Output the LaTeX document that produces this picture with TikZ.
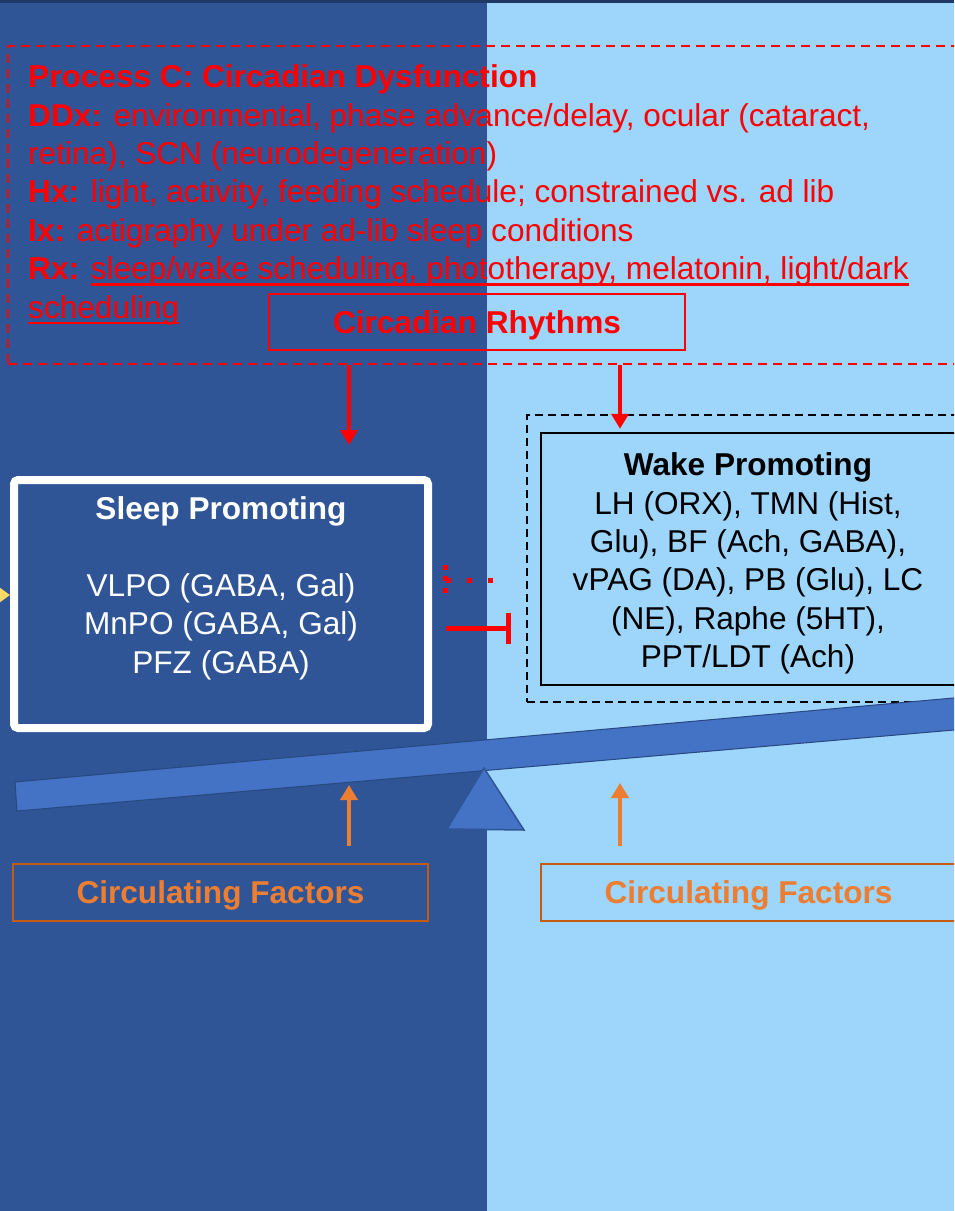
\documentclass[tikz,border=0pt]{standalone}
\usepackage{fontspec}
\setmainfont{Liberation Sans}
\usepackage{tikz}
\usetikzlibrary{arrows.meta, positioning, calc}

% underline drawn a fixed distance below the baseline
\newcommand{\ulrule}[1]{\setbox0\hbox{#1}\rlap{\rule[-6.2pt]{\wd0}{2.4pt}}\box0}

\definecolor{nightblue}{HTML}{2F5597}
\definecolor{skyblue}{HTML}{9DD5FB}
\definecolor{topnavy}{HTML}{203864}
\definecolor{beamblue}{HTML}{4472C4}
\definecolor{cfline}{HTML}{C55A11}
\definecolor{cftext}{HTML}{ED7D31}
\definecolor{cue}{HTML}{FFD966}

\begin{document}
\begin{tikzpicture}[x=1pt, y=-1pt,
  txt/.style={font=\fontsize{31.6}{38.4}\selectfont, inner sep=0pt},
  box/.style={draw=#1, line width=2pt, inner sep=0pt, text depth=0pt, font=\fontsize{31.6}{38.4}\selectfont\bfseries},
  frame/.style={draw=#1, line width=2pt, dash pattern=on 9pt off 6pt},
  arr/.style={-{Triangle[length=15pt, width=17pt]}, line width=4pt, draw=#1},
  inhib/.style={-{Bar[width=31pt]}, line width=5pt, draw=red},
  dotline/.style={line width=5pt, draw=red, dash pattern=on 5pt off 16pt}
]
\useasboundingbox (0,0) rectangle (954,1211);
\clip (0,0) rectangle (954,1211);

% two halves of the background
\fill[nightblue] (0,0) rectangle (487,1211);
\fill[skyblue] (487,0) rectangle (954,1211);
\fill[topnavy] (0,0) rectangle (954,3);

% column positions of the vertical arrows
\coordinate (lx) at (349,0);
\coordinate (rx) at (620,0);

% Process C panel
\node[frame=red, minimum width=962, minimum height=318] (proc) at (489,205) {};
\node[txt, text=red, align=left, anchor=north west] (proctxt) at (28,64.5)
  {\textbf{Process C: Circadian Dysfunction}\\
   \textbf{DDx:} environmental, phase advance/delay, ocular (cataract,\\
   retina), SCN (neurodegeneration)\\
   \textbf{Hx:} light, activity, feeding schedule; constrained vs. ad lib\\
   \textbf{Ix:} actigraphy under ad-lib sleep conditions\\
   \textbf{Rx:} \ulrule{sleep/wake scheduling, phototherapy, melatonin, light/dark}\\
   \ulrule{scheduling}};
\node[box=red, text=red, minimum width=416, minimum height=56] (circ) at (477,322) {Circadian Rhythms};

% sleep side
\node[draw=white, line width=8pt, rounded corners=4pt, minimum width=414, minimum height=248] (sleep) at (221,604) {};
\node[txt, text=white, align=center, anchor=north] (sleeptxt) at (221,496.5)
  {\textbf{Sleep Promoting}\\[38.4pt]
   VLPO (GABA, Gal)\\
   MnPO (GABA, Gal)\\
   PFZ (GABA)};

% wake side
\node[draw=black, line width=2.3pt, dash pattern=on 8pt off 5pt, minimum width=443, minimum height=287] (wakeframe) at (748.5,558.5) {};
\node[draw=black, line width=2.5pt, minimum width=415, minimum height=252] (wake) at (748.5,559) {};
\node[txt, text=black, align=center, anchor=north] (waketxt) at (748,452.5)
  {\textbf{Wake Promoting}\\
   LH (ORX), TMN (Hist,\\
   Glu), BF (Ach, GABA),\\
   vPAG (DA), PB (Glu), LC\\
   (NE), Raphe (5HT),\\
   PPT/LDT (Ach)};

% circadian drive
\coordinate (sleepcue) at (349,445);
\draw[arr=red] (proc.south -| lx) -- (sleepcue);
\draw[arr=red, shorten >=3pt] (proc.south -| rx) -- (wake.north -| rx);

% mutual inhibition
\coordinate (inh) at (0,628);
\coordinate (dotrow) at (0,580);
\draw[inhib, shorten <=14pt, shorten >=14.5pt] (sleep.east |- inh) -- (wakeframe.west |- inh);
\draw[dotline, shorten <=33.3pt, shorten >=13.5pt] (wakeframe.west |- dotrow) -- (sleep.east |- dotrow);
\draw[line width=5pt, draw=red, dash pattern=on 5pt off 6.5pt] ([xshift=13pt, yshift=15.5pt]sleep.east |- dotrow) -- ++(0,29);

% homeostatic input from the left
\coordinate (cuein) at (-40,595);
\draw[-{Triangle[length=13pt, width=18pt]}, line width=4pt, draw=cue] (cuein) -- (sleep.west |- cuein);

% seesaw
\filldraw[fill=beamblue, draw=nightblue!85!black, line width=1pt]
  (15,782) -- (990,694.7) -- (990,726.9) -- (17,811) -- cycle;
\filldraw[fill=beamblue, draw=nightblue, line width=1.5pt]
  (484,768) -- (524,830) -- (447,829) -- cycle;

% circulating factors
\node[box=cfline, text=cftext, minimum width=415, minimum height=57] (cfl) at (220.5,892.5) {Circulating Factors};
\node[box=cfline, text=cftext, minimum width=415, minimum height=57] (cfr) at (748.5,892.5) {Circulating Factors};
\coordinate (ltip) at (349,785);
\coordinate (rtip) at (620,783);
\draw[arr=cftext, shorten <=17pt] (cfl.north -| lx) -- (ltip);
\draw[arr=cftext, shorten <=17pt] (cfr.north -| rx) -- (rtip);
\end{tikzpicture}
\end{document}
